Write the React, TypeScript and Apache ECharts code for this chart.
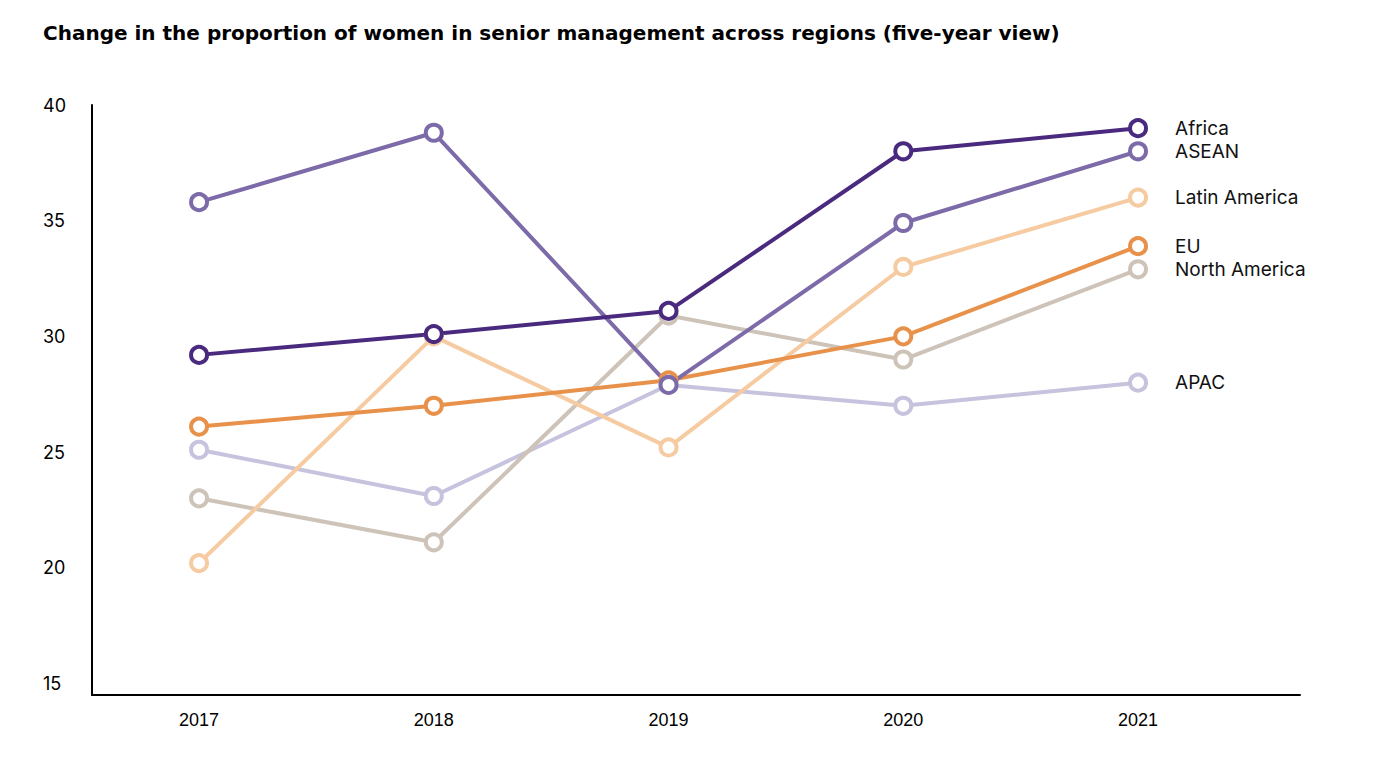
import React, { useEffect, useRef } from "react";
import * as echarts from "echarts";

const years = [2017, 2018, 2019, 2020, 2021];
const yTicks = [15, 20, 25, 30, 35, 40];

const africa = [29.2, 30.1, 31.1, 38.0, 39.0];
const asean = [35.8, 38.8, 27.9, 34.9, 38.0];
const latinAmerica = [20.2, 30.0, 25.2, 33.0, 36.0];
const eu = [26.1, 27.0, 28.1, 30.0, 33.9];
const northAmerica = [23.0, 21.1, 30.9, 29.0, 32.9];
const apac = [25.1, 23.1, 27.9, 27.0, 28.0];

const seriesDefs = [
  { name: "APAC", data: apac, color: "#C7C2DD" },
  { name: "North America", data: northAmerica, color: "#CDC3B8" },
  { name: "Latin America", data: latinAmerica, color: "#F6CBA1" },
  { name: "EU", data: eu, color: "#E8914A" },
  { name: "ASEAN", data: asean, color: "#7D6AA8" },
  { name: "Africa", data: africa, color: "#4A2A7E" },
];

export default function App() {
  const ref = useRef<HTMLDivElement>(null);
  useEffect(() => {
    if (!ref.current) return;
    const chart = echarts.init(ref.current, null, { renderer: "svg" });
    chart.setOption({
      animation: false,
      backgroundColor: "#ffffff",
      title: {
        text: "Change in the proportion of women in senior management across regions (five-year view)",
        left: 38,
        top: 18,
        textStyle: {
          fontFamily: "DejaVu Sans",
          fontWeight: "bold",
          fontSize: 20,
          color: "#000000",
        },
      },
      grid: { left: 92, right: 78, top: 105, bottom: 89, containLabel: false },
      xAxis: {
        type: "value",
        min: 2016.544,
        max: 2021.69,
        splitLine: { show: false },
        axisTick: { show: false },
        axisLine: { show: true, lineStyle: { color: "#000000", width: 2 } },
        axisLabel: {
          customValues: years,
          formatter: (v: number) => String(v),
          fontFamily: "Liberation Sans",
          fontSize: 18,
          color: "#000000",
          margin: 16,
        },
      },
      yAxis: {
        type: "value",
        min: 14.5,
        max: 40,
        splitLine: { show: false },
        axisTick: { show: false },
        axisLine: { show: true, lineStyle: { color: "#000000", width: 2 } },
        axisLabel: {
          customValues: yTicks,
          align: "left",
          margin: 49,
          fontFamily: "Inter",
          fontSize: 18,
          color: "#000000",
        },
      },
      series: seriesDefs.map((s) => ({
        type: "line",
        name: s.name,
        data: years.map((y, i) => [y, s.data[i]]),
        symbol: "circle",
        symbolSize: 16,
        showAllSymbol: true,
        lineStyle: { color: s.color, width: 4 },
        itemStyle: { color: "#ffffff", borderColor: s.color, borderWidth: 4 },
        emphasis: { disabled: true },
        endLabel: {
          show: true,
          formatter: s.name,
          distance: 37,
          fontFamily: "Inter",
          fontSize: 19,
          color: "#111111",
        },
      })),
    });
    return () => chart.dispose();
  }, []);
  return (
    <div
      ref={ref}
      style={{ position: "absolute", left: 0, top: 0, width: 1378, height: 784 }}
    />
  );
}
